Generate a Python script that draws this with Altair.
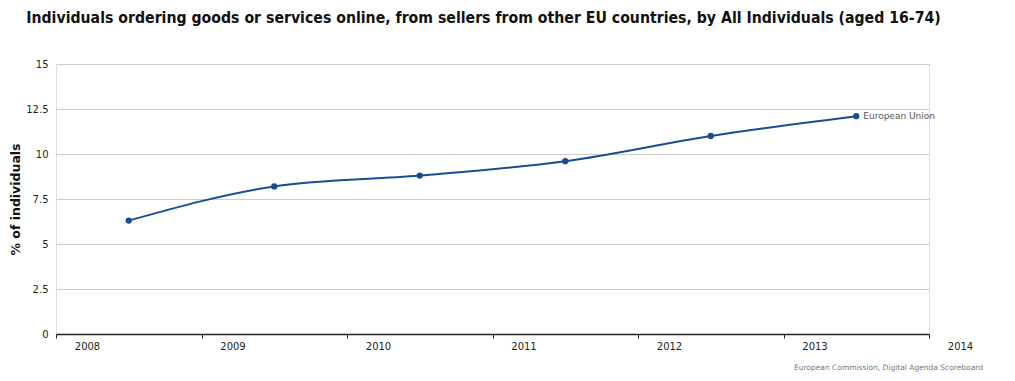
import altair as alt
import pandas as pd

years = [2008, 2009, 2010, 2011, 2012, 2013]
values = [6.3, 8.2, 8.8, 9.6, 11.0, 12.1]
series = ["European Union"] * 6
x_ticks = [2008, 2009, 2010, 2011, 2012, 2013, 2014]
y_ticks = [0, 2.5, 5, 7.5, 10, 12.5, 15]

title_text = "Individuals ordering goods or services online, from sellers from other EU countries, by All Individuals (aged 16-74)"
y_title = "% of individuals"
credit = "European Commission, Digital Agenda Scoreboard"

df = pd.DataFrame({"year": years, "value": values, "series": series})

FONT = "DejaVu Sans"
COLOR = "#1a4c96"

base = alt.Chart(df).transform_calculate(xpos="datum.year + 0.5")

x_enc = alt.X(
    "xpos:Q",
    scale=alt.Scale(domain=[2008, 2014], nice=False, zero=False),
    axis=alt.Axis(
        values=x_ticks, format="d", title=None, grid=False,
        domainColor="#222", domainWidth=1.5, tickColor="#222", tickSize=4,
        labelOffset=31, labelPadding=3, labelFont=FONT, labelFontSize=10,
        labelColor="#222", labelFlush=False, labelOverlap=False,
    ),
)
y_enc = alt.Y(
    "value:Q",
    scale=alt.Scale(domain=[0, 15], nice=False),
    axis=alt.Axis(
        values=y_ticks, format=".1~f", title=y_title, domain=False, ticks=False,
        gridColor="#cccccc", gridWidth=1,
        labelPadding=8, labelFont=FONT, labelFontSize=10, labelColor="#222",
        titleFont=FONT, titleFontSize=12.5, titleFontWeight="bold",
        titleColor="#111", titlePadding=3,
    ),
)

line = base.mark_line(interpolate="monotone", color=COLOR, strokeWidth=2).encode(
    x=x_enc, y=y_enc
)
points = base.mark_point(filled=True, color=COLOR, size=40, opacity=1).encode(
    x="xpos:Q", y="value:Q"
)
label = base.transform_filter("datum.year == 2013").mark_text(
    align="left", baseline="middle", dx=7, font=FONT, fontSize=9, color="#555"
).encode(x="xpos:Q", y="value:Q", text="series:N")

credit_df = pd.DataFrame({"t": [credit]})
credit_mark = alt.Chart(credit_df).mark_text(
    align="right", baseline="alphabetic", font=FONT, fontSize=7.5, color="#777"
).encode(text="t:N", x=alt.value(927), y=alt.value(306))

chart = alt.layer(line, points, label, credit_mark).properties(
    width=873,
    height=270,
    autosize=alt.AutoSizeParams(type="none"),
    padding={"left": 48, "top": 56, "right": 78, "bottom": 38},
    title=alt.TitleParams(
        text=title_text, font="DejaVu Sans Condensed", fontSize=15.7,
        fontWeight="bold", color="#111", anchor="middle", offset=32, dx=-9,
    ),
).configure_view(stroke=None).configure(background="white")

chart.save("out.html", embed_options={"renderer": "svg", "actions": False})
